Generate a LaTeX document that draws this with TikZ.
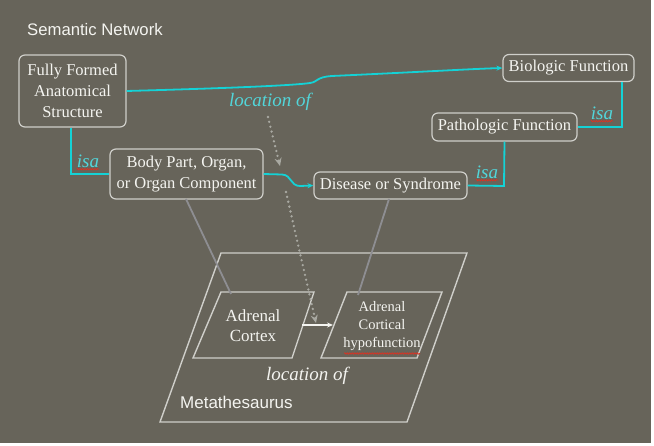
\documentclass[tikz,border=0pt]{standalone}
\usepackage{fontspec}
\setmainfont{Liberation Serif}
\newfontfamily\arialf{Liberation Sans}
\usetikzlibrary{arrows.meta,decorations.pathmorphing}
\definecolor{bg}{HTML}{67645A}
\definecolor{boxgray}{HTML}{CFCFCA}
\definecolor{textw}{HTML}{F4F4F0}
\definecolor{cyanc}{HTML}{14D2D6}
\definecolor{cyanl}{HTML}{52D6DA}
\definecolor{dotgray}{HTML}{A9A9A2}
\definecolor{mapgray}{HTML}{8E8E92}
\definecolor{spellred}{HTML}{E03020}
\begin{document}
\begin{tikzpicture}[x=1pt,y=-1pt,
  box/.style={draw=boxgray, line width=1.2pt, rounded corners=6pt, text=textw,
    font=\fontsize{16.5}{21}\selectfont, inner sep=0pt, align=center},
  cyanline/.style={draw=cyanc, line width=1.8pt},
  cyanarrow/.style={cyanline, -{Stealth[length=6pt,width=5pt]}},
  isalbl/.style={text=cyanl, font=\itshape\fontsize{19}{20}\selectfont, inner sep=0pt},
  wavy/.style={draw=spellred, line width=0.6pt, decorate,
    decoration={snake, segment length=2.5pt, amplitude=0.8pt}},
  para/.style={draw=boxgray, line width=1.4pt, line join=miter},
  maplink/.style={draw=mapgray, line width=1.8pt},
  dotlink/.style={draw=dotgray, line width=2.6pt, line cap=round, dash pattern=on 0pt off 5pt,
    -{Stealth[length=8pt,width=7pt,fill=dotgray]}},
  sanslbl/.style={text=textw, font=\arialf\fontsize{16.7}{18}\selectfont, inner sep=0pt, anchor=west}
]
\useasboundingbox (0,0) rectangle (654,446);
\fill[white] (0,0) rectangle (654,446);
\fill[bg] (0,0) rectangle (651,443);

% title
\node[sanslbl] (title) at (27,30) {Semantic Network};

% boxes
\node[box, minimum width=107pt, minimum height=72pt] (ff) at (72.5,91) {Fully Formed\\Anatomical\\Structure};
\node[box, minimum width=131pt, minimum height=27pt] (bf) at (568.5,68) {Biologic Function};
\node[box, minimum width=145pt, minimum height=28pt] (pf) at (504.5,127) {Pathologic Function};
\node[box, minimum width=153pt, minimum height=27pt] (ds) at (390.5,185.5) {Disease or Syndrome};
\node[box, minimum width=153pt, minimum height=50pt] (bp) at (186.5,174) {Body Part, Organ,\\or Organ Component};

% cyan connectors
\draw[cyanarrow] (ff.east) .. controls (200,89) and (290,86) .. (310,83)
  .. controls (318,82) and (316,77) .. (332,76)
  .. controls (420,72) and (470,69) .. (bf.west);
\coordinate (c1) at (71,174);
\draw[cyanline] (ff.south -| c1) -- (c1) -- (bp.west);
\draw[cyanarrow] (bp.east) -- (282,174.5) .. controls (292,175) and (290,186) .. (300,186) -- (ds.west);
\coordinate (c2) at (504,186);
\draw[cyanline] (ds.east) -- (c2) -- (pf.south);
\coordinate (c3) at (622,127);
\draw[cyanline] (pf.east) -- (c3) -- (bf.south -| c3);

% isa labels
\node[isalbl] (isa1) at (88,161) {isa};
\node[isalbl] (isa2) at (487,172) {isa};
\node[isalbl] (isa3) at (602,113) {isa};
\foreach \n in {isa1,isa2,isa3}{
  \draw[wavy] ([yshift=-2pt]\n.base west) -- ([yshift=-2pt]\n.base east);
}

% location of (top)
\node[isalbl] (loc1) at (270,102) {location of};

% Metathesaurus plane
\coordinate (m1) at (221,253);
\coordinate (m2) at (467,253);
\coordinate (m3) at (407,422);
\coordinate (m4) at (160,422);
\draw[para] (m1) -- (m2) -- (m3) -- (m4) -- cycle;

\coordinate (a1) at (221,292);
\coordinate (a2) at (314,292);
\coordinate (a3) at (292,358);
\coordinate (a4) at (193,358);
\draw[para] (a1) -- (a2) -- (a3) -- (a4) -- cycle;

\coordinate (h1) at (347,292);
\coordinate (h2) at (442,292);
\coordinate (h3) at (417,358);
\coordinate (h4) at (321,358);
\draw[para] (h1) -- (h2) -- (h3) -- (h4) -- cycle;

\node[text=textw, font=\fontsize{17}{20}\selectfont, align=center, inner sep=0pt] (ac) at (253,326) {Adrenal\\Cortex};
\node[text=textw, font=\fontsize{14.5}{18}\selectfont, align=center, inner sep=0pt] (ach) at (382,326) {Adrenal\\Cortical\\hypofunction};
\draw[wavy] (344,353.5) -- (420,353.5);

% mapping lines
\draw[maplink] (186,199) -- (231,294);
\draw[maplink] (389,199) -- (358,295);

% dotted location-of arrow
\draw[dotlink] (268,117) -- (280,166);
\draw[dotlink] (286,192) -- (316,323);

% white arrow
\coordinate (w1) at (302,325);
\coordinate (w2) at (333,325);
\draw[draw=textw, line width=1.5pt, -{Stealth[length=6pt,width=5pt]}] (w1) -- (w2);

\node[text=textw, font=\itshape\fontsize{19}{20}\selectfont, inner sep=0pt] (loc2) at (307,376) {location of};
\node[sanslbl, font=\arialf\fontsize{17}{18}\selectfont] (meta) at (180,402) {Metathesaurus};
\end{tikzpicture}
\end{document}
